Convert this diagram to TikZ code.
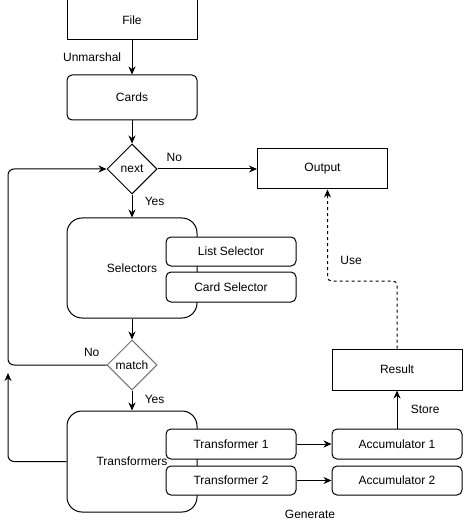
\documentclass[tikz,border=0pt]{standalone}
\usepackage{fontspec}
\setmainfont{Liberation Sans}
\usetikzlibrary{shapes.geometric,arrows.meta}

\begin{document}
\begin{tikzpicture}[x=1pt,y=-1pt,line width=1pt,
  every node/.style={font=\fontsize{12}{14}\selectfont},
  box node/.style={rectangle,draw,fill=white,minimum width=130pt,minimum height=40pt,inner sep=0pt},
  round node/.style={box node,rounded corners=5pt},
  group node/.style={box node,rounded corners=15pt,minimum height=100pt},
  decision node/.style={diamond,draw,fill=white,minimum width=50pt,minimum height=50pt,inner sep=0pt},
  flow/.style={-{Stealth[length=8pt,width=7pt]}}]

  \useasboundingbox (0,0) rectangle (463,526);

  \node[box node] (file) at (132,20) {File};
  \node[round node,minimum height=45pt] (cards) at (132,97.5) {Cards};
  \node[decision node] (next) at (132,169) {next};
  \node[box node] (output) at (322.5,169) {Output};

  \node[group node] (selectors) at (132,268) {Selectors};
  \node[round node,minimum height=29pt] (listsel) at (231,251.5) {List Selector};
  \node[round node,minimum height=30pt] (cardsel) at (231,287) {Card Selector};

  \node[decision node,draw=black!55] (match) at (132,365) {match};

  \node[group node,minimum height=101pt] (transformers) at (132,461.5) {Transformers};
  \node[round node,minimum height=30pt] (trans1) at (231,444) {Transformer 1};
  \node[round node,minimum height=29pt] (trans2) at (231,480.5) {Transformer 2};
  \node[round node,minimum height=30pt] (acc1) at (397,444) {Accumulator 1};
  \node[round node,minimum height=29pt] (acc2) at (397,480.5) {Accumulator 2};
  \node[box node,minimum height=41pt] (result) at (397,369.5) {Result};
  \node (generate) at (310,514) {Generate};

  \coordinate (loopleft) at (8,0);
  \coordinate (loopend) at (8,373);
  \coordinate (usebend) at (327.5,281);

  \path[flow]
   (file) edge node[left=7pt]{Unmarshal} (cards)
   (cards) edge (next)
   (next) edge node[above=4pt,pos=0.17]{No} (output)
   (next) edge node[right=9pt,pos=0.3]{Yes} (selectors)
   (selectors) edge (match)
   (match) edge node[right=9pt,pos=0.43]{Yes} (transformers)
   (trans1) edge (acc1)
   (trans2) edge (acc2)
   (acc1) edge node[right=10pt]{Store} (result);

  \draw[flow,rounded corners=6pt] (match.west) -- node[above=5pt,pos=0.15]{No} (loopleft |- match.west)
    -- (loopleft |- next.west) -- (next.west);
  \draw[flow,rounded corners=6pt] (transformers.west) -| (loopend);
  \draw[flow,dash pattern=on 3pt off 3pt,rounded corners=4pt] (result.north) |- (usebend)
    -- node[right=9pt,pos=0.22]{Use} (usebend |- output.south);
\end{tikzpicture}
\end{document}
